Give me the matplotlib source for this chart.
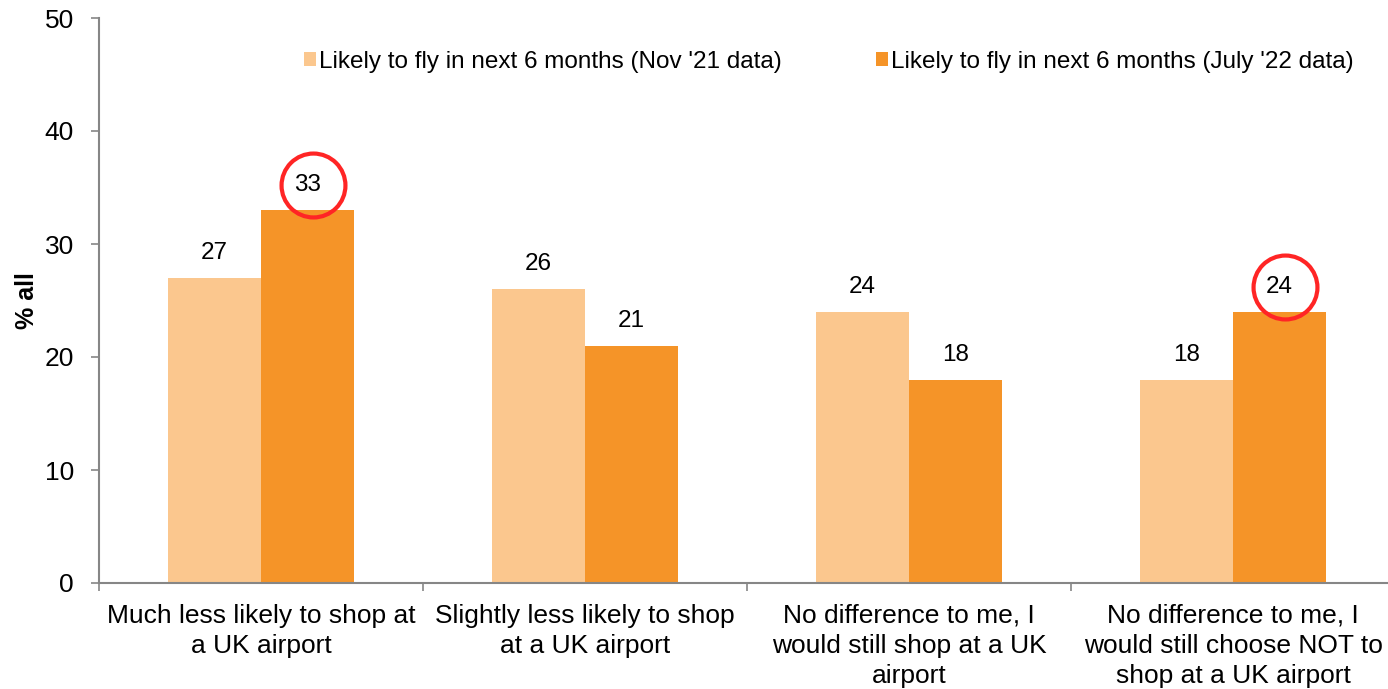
import matplotlib
matplotlib.use('Agg')
import matplotlib.pyplot as plt
import matplotlib.transforms as mtransforms
import numpy as np

plt.rcParams['font.family'] = ['Liberation Sans', 'DejaVu Sans']

# ---- data ----
categories = [
    'Much less likely to shop at\na UK airport',
    'Slightly less likely to shop\nat a UK airport',
    'No difference to me, I\nwould still shop at a UK\nairport',
    'No difference to me, I\nwould still choose NOT to\nshop at a UK airport',
]
nov21 = [27, 26, 24, 18]
jul22 = [33, 21, 18, 24]
series_names = ["Likely to fly in next 6 months (Nov '21 data)",
                "Likely to fly in next 6 months (July '22 data)"]
highlight = [0, 3]   # july bars circled

light = '#FBC78E'
dark = '#F59428'
grey = '#868686'

fig = plt.figure(figsize=(13.88, 6.89), dpi=100)
ax = fig.add_axes([99 / 1388, 106 / 689, 1296 / 1388, 565 / 689])

x = np.arange(len(categories))
w = 0.287
ax.bar(x - w / 2, nov21, w, color=light, label=series_names[0])
ax.bar(x + w / 2, jul22, w, color=dark, label=series_names[1])

for xi, v in zip(x - w / 2, nov21):
    ax.annotate(str(v), (xi, v), xytext=(0, 18), textcoords='offset points',
                ha='center', va='center', fontsize=17.5)
for xi, v in zip(x + w / 2, jul22):
    ax.annotate(str(v), (xi, v), xytext=(0, 18), textcoords='offset points',
                ha='center', va='center', fontsize=17.5)

# red circles round the highlighted labels
off = mtransforms.ScaledTranslation(0.06, 0.25, fig.dpi_scale_trans)
for i in highlight:
    ax.plot(x[i] + w / 2, jul22[i], marker='o', markersize=46,
            markerfacecolor='none', markeredgecolor='#FF2525',
            markeredgewidth=3, transform=ax.transData + off, clip_on=False)

ax.set_xlim(-0.5, 3.5)
ax.set_ylim(0, 50)
ax.set_yticks([0, 10, 20, 30, 40, 50])
ax.tick_params(axis='y', labelsize=19, length=6, width=1.2, color=grey, pad=12)

ax.set_xticks(np.arange(-0.5, 4, 1))
ax.set_xticklabels([])
ax.set_xticks(x, minor=True)
ax.set_xticklabels(categories, minor=True, fontsize=19, linespacing=1.33)
ax.tick_params(axis='x', which='major', length=6, width=1.2, color=grey, direction='out')
ax.tick_params(axis='x', which='minor', length=0, pad=15)

for s in ['top', 'right']:
    ax.spines[s].set_visible(False)
for s in ['left', 'bottom']:
    ax.spines[s].set_color(grey)
    ax.spines[s].set_linewidth(1.5)

ax.set_ylabel('% all', fontsize=18, fontweight='bold', labelpad=4)

ax.legend(loc='center left', bbox_to_anchor=(304 / 1388, 1 - 62 / 689),
          bbox_transform=fig.transFigure, ncol=2, frameon=False,
          fontsize=17.5, handlelength=0.5, handleheight=0.5,
          handletextpad=0.1, columnspacing=3.9, borderaxespad=0, borderpad=0)

plt.savefig('out.png', dpi=100)
